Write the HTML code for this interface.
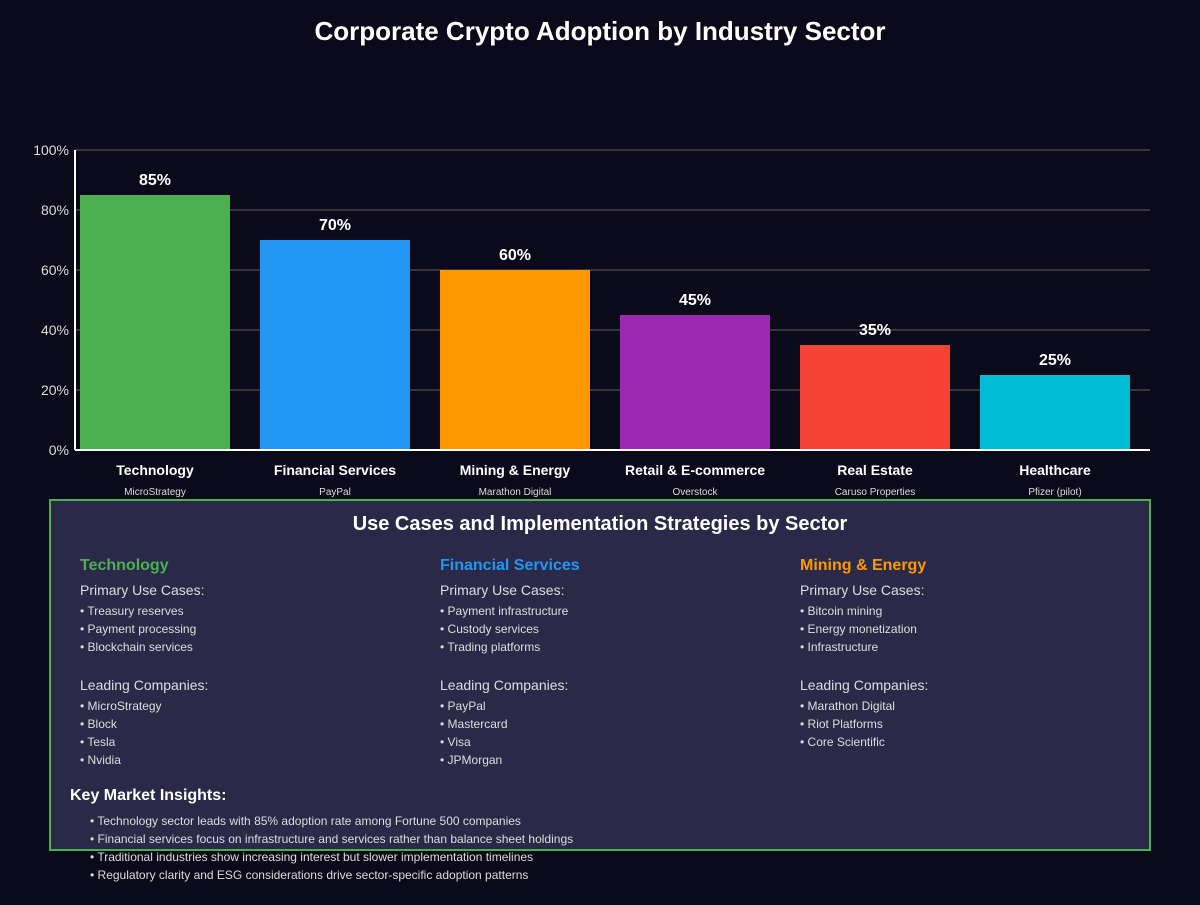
<!DOCTYPE html>
<html><head><meta charset="utf-8"><style>
body{margin:0;background:#0b0a1a;width:1200px;height:900px;overflow:hidden;font-family:"Liberation Sans",sans-serif}
svg text{font-family:"Liberation Sans",sans-serif}
</style></head><body>
<svg id="c" width="1200" height="900">
<text x="600" y="40" text-anchor="middle" fill="#fff" font-size="26" font-weight="bold">Corporate Crypto Adoption by Industry Sector</text>
<g id="grid"></g><g id="bars"></g>
<line x1="75" y1="150" x2="75" y2="450" stroke="#fff" stroke-width="2"/>
<line x1="75" y1="450" x2="1150" y2="450" stroke="#fff" stroke-width="2"/>
<rect x="50" y="500" width="1100" height="350" fill="#2a2a48" stroke="#4caf50" stroke-width="2"/>
<text x="600" y="530" text-anchor="middle" fill="#fff" font-size="20" font-weight="bold">Use Cases and Implementation Strategies by Sector</text>
<g id="cols"></g>
<text x="70" y="800" fill="#fff" font-size="16" font-weight="bold">Key Market Insights:</text>
<g id="ins"></g>
</svg>
<script>
const categories=["Technology","Financial Services","Mining & Energy","Retail & E-commerce","Real Estate","Healthcare"];
const companies=["MicroStrategy","PayPal","Marathon Digital","Overstock","Caruso Properties","Pfizer (pilot)"];
const values=[85,70,60,45,35,25];
const colors=["#4caf50","#2196f3","#ff9800","#9c27b0","#f44336","#00bcd4"];
const yTicks=[0,20,40,60,80,100];
const NS="http://www.w3.org/2000/svg";
function mk(t,a,p,txt){const e=document.createElementNS(NS,t);for(const k in a)e.setAttribute(k,a[k]);if(txt!=null)e.textContent=txt;p.appendChild(e);return e;}
const y=v=>450-v*3, x=i=>80+i*180;
const g=document.getElementById('grid'),b=document.getElementById('bars');
yTicks.forEach(t=>{
 const l=mk('line',{x1:75,x2:1150,y1:y(t),y2:y(t),stroke:'#444',"stroke-width":1.5},g);
 
 
 const tx=mk('text',{x:69,y:y(t)+5,"text-anchor":'end',fill:'#ddd',"font-size":14},g,t+'%');
 
 
});
values.forEach((v,i)=>{
 const r=mk('rect',{x:x(i),y:y(v),width:150,height:v*3,fill:colors[i]},b);
 
 
 const cx=x(i)+75;
 const vl=mk('text',{x:cx,y:y(v)-10,"text-anchor":'middle',fill:'#fff',"font-size":16,"font-weight":'bold'},b,v+'%');
 
 
 const cl=mk('text',{x:cx,y:475,"text-anchor":'middle',fill:'#fff',"font-size":14,"font-weight":'bold'},b,categories[i]);
 
 
 const co=mk('text',{x:cx,y:495,"text-anchor":'middle',fill:'#ddd',"font-size":10},b,companies[i]);
 
 
});
const cols=[
 ["Technology","#4caf50",["Treasury reserves","Payment processing","Blockchain services"],["MicroStrategy","Block","Tesla","Nvidia"]],
 ["Financial Services","#2196f3",["Payment infrastructure","Custody services","Trading platforms"],["PayPal","Mastercard","Visa","JPMorgan"]],
 ["Mining & Energy","#ff9800",["Bitcoin mining","Energy monetization","Infrastructure"],["Marathon Digital","Riot Platforms","Core Scientific"]]];
const cg=document.getElementById('cols');
cols.forEach((c,i)=>{
 const X=80+i*360;
 const h=mk('text',{x:X,y:570,fill:c[1],"font-size":16,"font-weight":'bold'},cg,c[0]);
 
 
 mk('text',{x:X,y:595,fill:'#ddd',"font-size":14},cg,'Primary Use Cases:');
 c[2].forEach((s,j)=>mk('text',{x:X,y:615+j*18,fill:'#ddd',"font-size":12},cg,'• '+s));
 mk('text',{x:X,y:690,fill:'#ddd',"font-size":14},cg,'Leading Companies:');
 c[3].forEach((s,j)=>mk('text',{x:X,y:710+j*18,fill:'#ddd',"font-size":12},cg,'• '+s));
});
const ins=["Technology sector leads with 85% adoption rate among Fortune 500 companies","Financial services focus on infrastructure and services rather than balance sheet holdings","Traditional industries show increasing interest but slower implementation timelines","Regulatory clarity and ESG considerations drive sector-specific adoption patterns"];
const ig=document.getElementById('ins');
ins.forEach((s,j)=>{const t=mk('text',{x:90,y:825+j*18,fill:'#ddd',"font-size":12},ig,'• '+s);
 
 });
</script>
</body></html>
